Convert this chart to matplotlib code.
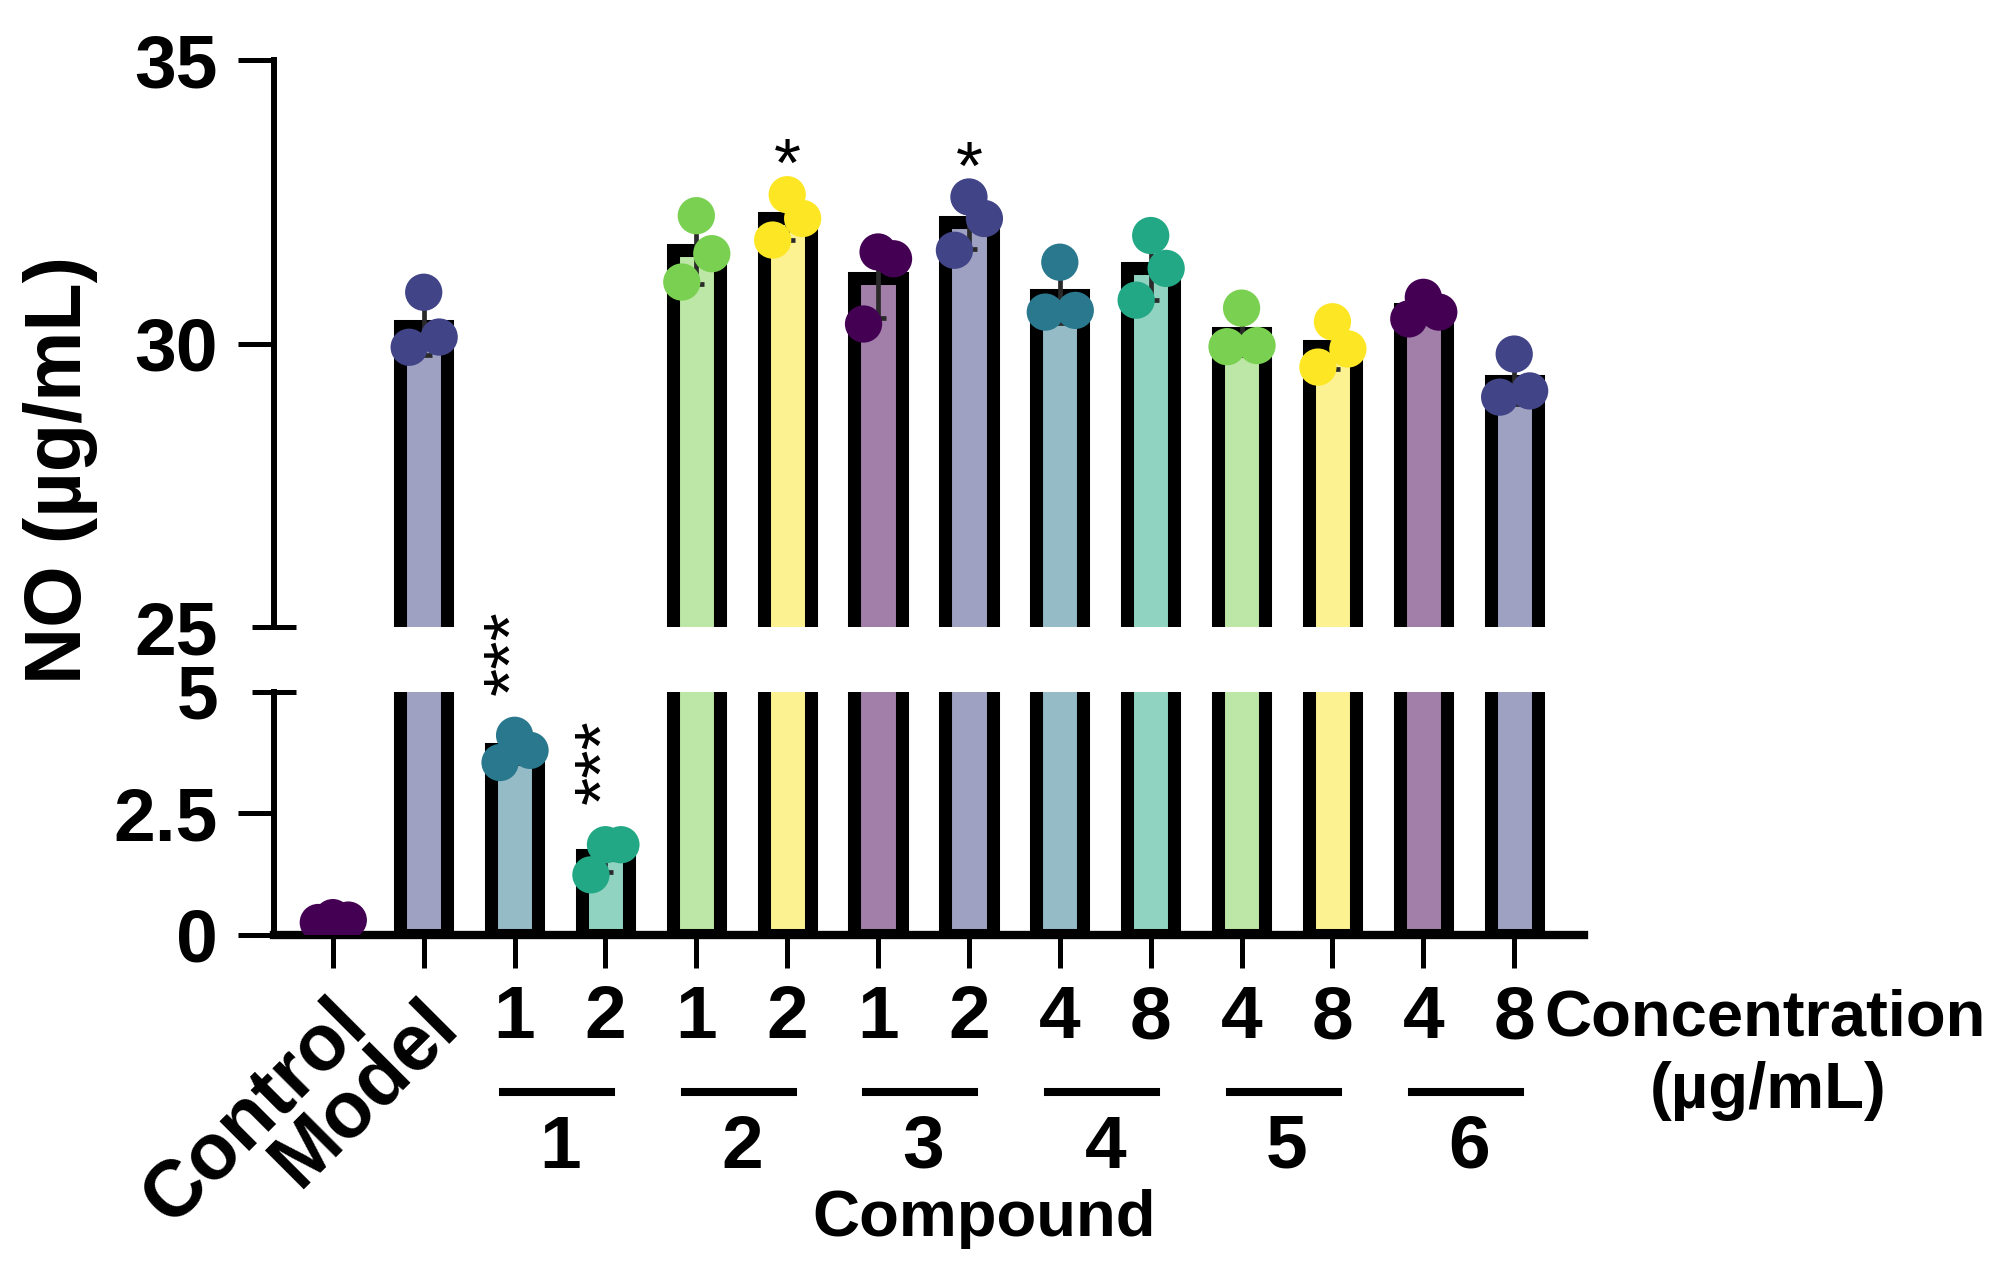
import numpy as np
import matplotlib
matplotlib.use('Agg')
import matplotlib.pyplot as plt
from matplotlib.transforms import blended_transform_factory
from matplotlib.colors import to_rgba

# ---------------- data ----------------
groups = ['Control', 'Model', 'C1-1', 'C1-2', 'C2-1', 'C2-2', 'C3-1', 'C3-2',
          'C4-4', 'C4-8', 'C5-4', 'C5-8', 'C6-4', 'C6-8']
x_labels_rot = ['Control', 'Model']
conc_labels = ['1', '2', '1', '2', '1', '2', '4', '8', '4', '8', '4', '8']
compound_labels = ['1', '2', '3', '4', '5', '6']
rep1 = [0.35, 30.91, 4.10, 1.85, 32.26, 32.63, 31.62, 32.59, 31.44, 31.91, 30.63, 30.39, 30.82, 29.82]
rep2 = [0.30, 30.12, 3.79, 1.85, 31.59, 32.21, 31.50, 32.21, 30.59, 31.33, 29.97, 29.91, 30.56, 29.17]
rep3 = [0.25, 29.94, 3.54, 1.23, 31.09, 31.83, 30.35, 31.65, 30.56, 30.77, 29.95, 29.59, 30.44, 29.06]
signif = ['', '', '***', '***', '', '*', '', '*', '', '', '', '', '', '']
palette = ['#440154', '#414487', '#2A788E', '#22A884', '#7AD151', '#FDE725']

vals = np.array([rep1, rep2, rep3]).T
means = vals.mean(axis=1)
sds = vals.std(axis=1, ddof=1)
x = np.arange(len(groups))
pt_colors = [palette[i % 6] for i in range(len(groups))]
fill_colors = [to_rgba(c, 0.5) for c in pt_colors]

FONT = ['Liberation Sans', 'DejaVu Sans']
plt.rcParams['font.family'] = FONT
plt.rcParams['font.weight'] = 'bold'

fig = plt.figure(figsize=(20.16, 12.83), dpi=100)
L, W = 0.1358, 0.650
ax_top = fig.add_axes([L, 0.511, W, 0.953 - 0.511])
ax_bot = fig.add_axes([L, 0.2715, W, 0.461 - 0.2715])

offs_pattern = [0.0, 0.17, -0.16]  # highest, middle, lowest

for ax in (ax_top, ax_bot):
    ax.bar(x, means, width=0.52, color=fill_colors, edgecolor='black',
           linewidth=9.4, zorder=2)
    ax.errorbar(x, means, yerr=sds, fmt='none', ecolor='#2a2a2a',
                elinewidth=3.4, capsize=6, capthick=3.4, zorder=3)
    for i in range(len(groups)):
        order = np.argsort(-vals[i])
        xs = np.empty(3)
        for rank, j in enumerate(order):
            xs[j] = x[i] + offs_pattern[rank]
        ax.scatter(xs, vals[i], s=720, color=pt_colors[i], edgecolors='none',
                   zorder=4, clip_on=True)
    ax.set_xlim(-0.65, 13.77)
    for s in ['top', 'right']:
        ax.spines[s].set_visible(False)
    ax.spines['left'].set_linewidth(4.3)

ax_top.set_ylim(25, 35)
ax_bot.set_ylim(0, 5)
ax_top.spines['bottom'].set_visible(False)
ax_bot.spines['bottom'].set_linewidth(6)
ax_top.set_xticks([])

# y ticks
ax_top.set_yticks([30, 35], labels=['30', '35'])
ax_top.set_yticks([25], labels=['25'], minor=True)
ax_bot.set_yticks([0, 2.5], labels=['0', '2.5'])
ax_bot.set_yticks([5], labels=['5'], minor=True)
for ax in (ax_top, ax_bot):
    ax.tick_params(axis='y', which='major', direction='out', length=26,
                   width=3.6, labelsize=54, pad=14)
    ax.tick_params(axis='y', which='minor', direction='inout', length=31,
                   width=3.6, labelsize=54, pad=24.5)
ax_bot.set_xticks(x, labels=[''] * len(x))
ax_bot.tick_params(axis='x', direction='out', length=24, width=3.6)

# significance marks
for i, s in enumerate(signif):
    if not s:
        continue
    ax = ax_top if means[i] > 10 else ax_bot
    top = vals[i].max()
    if s == '***':
        ax.annotate(s, xy=(x[i], top), xytext=(0, 29), textcoords='offset points',
                    ha='center', va='bottom', rotation=90, fontsize=52,
                    fontweight='normal', annotation_clip=False, zorder=6)
    else:
        ax.annotate(s, xy=(x[i], top), xytext=(0, -4), textcoords='offset points',
                    ha='center', va='bottom', fontsize=50,
                    fontweight='normal', annotation_clip=False, zorder=6)

# x labels
tr = blended_transform_factory(ax_bot.transData, fig.transFigure)
for i, lab in enumerate(x_labels_rot):
    fig.text(x[i] - 0.04, 0.231, lab, transform=tr, rotation=45,
             rotation_mode='anchor', ha='right', va='top', fontsize=57,
             fontweight='bold')
for i, lab in enumerate(conc_labels):
    fig.text(x[i + 2], 0.206, lab, transform=tr, ha='center', va='center',
             fontsize=54, fontweight='bold')
for k, lab in enumerate(compound_labels):
    p1, p2 = x[2 + 2 * k], x[3 + 2 * k]
    fig.add_artist(plt.Line2D([p1 - 0.13, p2 + 0.06], [0.149, 0.149],
                              transform=tr, color='black', lw=5.8))
    fig.text((p1 + p2) / 2, 0.105, lab, transform=tr, ha='center',
             va='center', fontsize=54, fontweight='bold')

fig.text(0.488, 0.050, 'Compound', ha='center', va='center', fontsize=47,
         fontweight='bold')
fig.text(0.766, 0.206, 'Concentration', ha='left', va='center', fontsize=47,
         fontweight='bold')
fig.text(0.877, 0.150, '(µg/mL)', ha='center', va='center', fontsize=47,
         fontweight='bold')
fig.text(0.030, 0.634, 'NO (µg/mL)', rotation=90, ha='center', va='center',
         fontsize=57, fontweight='bold')

fig.savefig('out.png', dpi=100, facecolor='white')
